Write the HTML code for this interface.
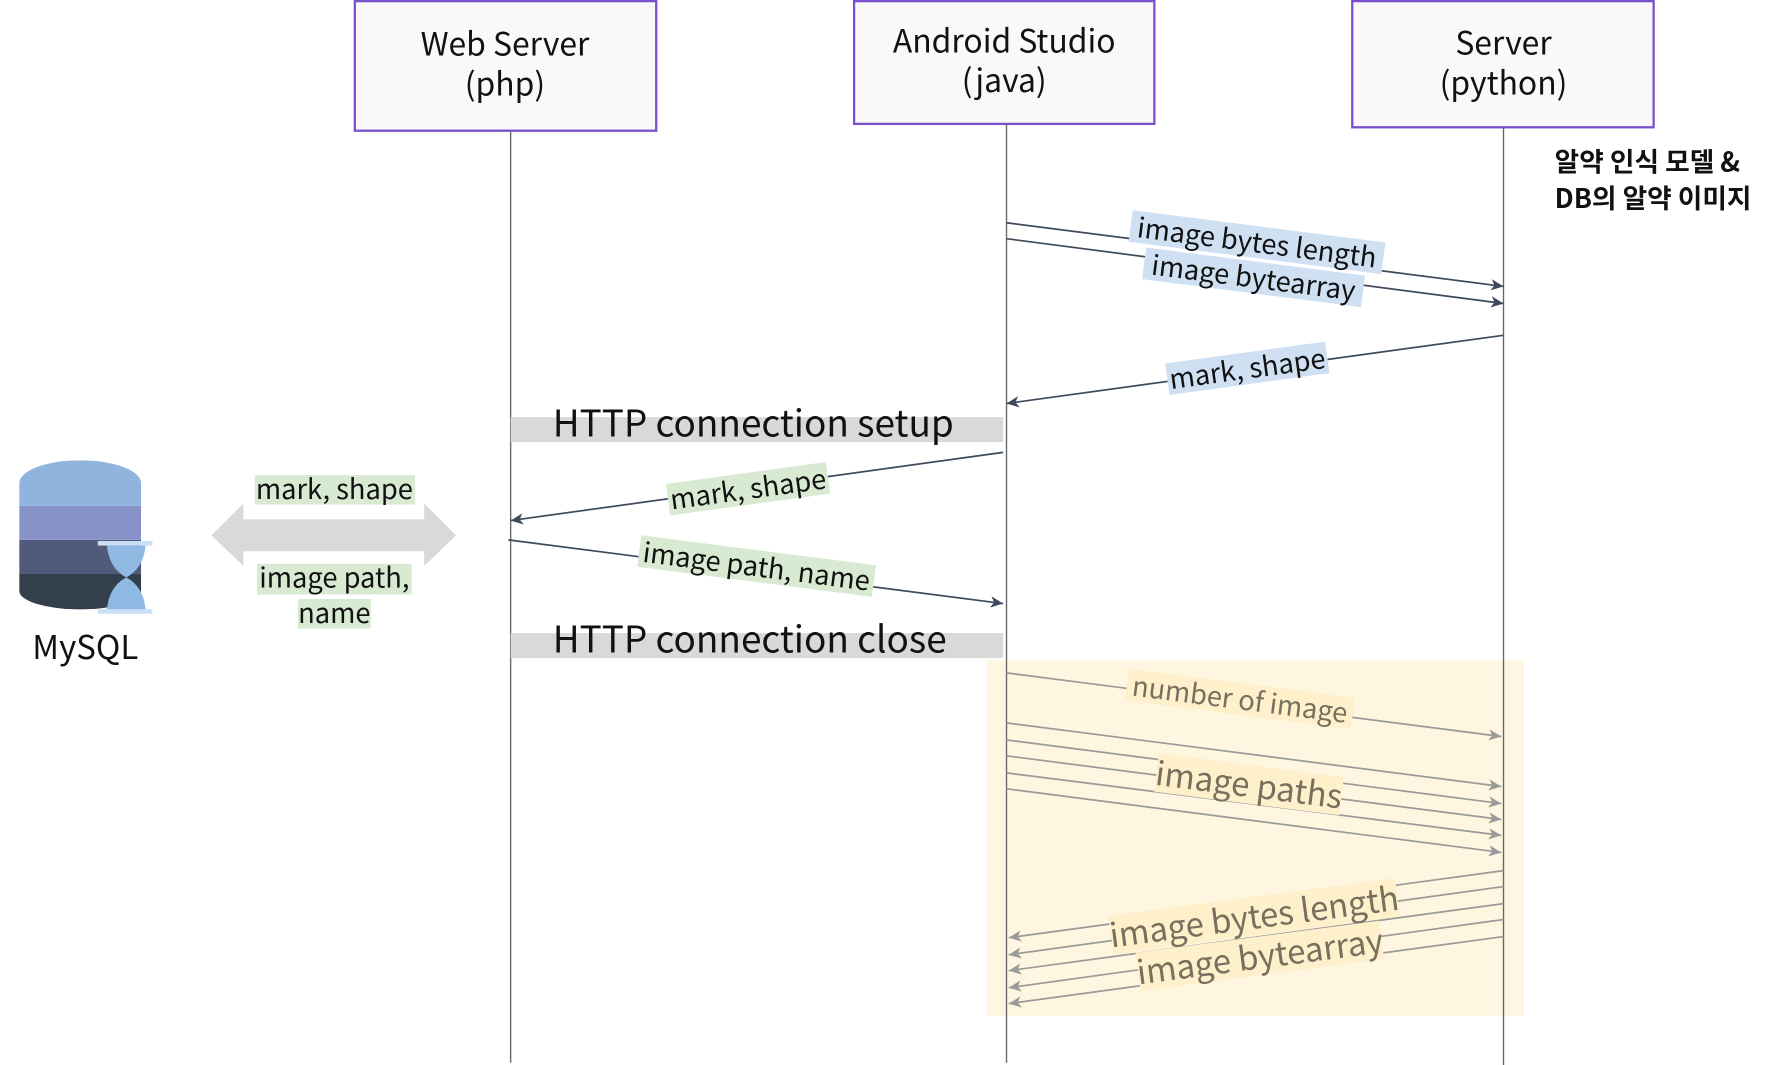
<!DOCTYPE html>
<html><head><meta charset="utf-8"><style>
html,body{margin:0;padding:0;background:#fff;width:1781px;height:1065px;overflow:hidden}
svg{display:block}
text{font-family:"Noto Sans CJK KR","Liberation Sans",sans-serif}
</style></head><body>
<svg width="1781" height="1065" viewBox="0 0 1566 937" preserveAspectRatio="none" xmlns="http://www.w3.org/2000/svg">
<defs>
<marker id="ad" markerWidth="12" markerHeight="10" refX="11" refY="5" orient="auto" markerUnits="userSpaceOnUse"><path d="M0,0 L11,5 L0,10 L3,5 Z" fill="#3d4a5c"/></marker>
<marker id="ag" markerWidth="12" markerHeight="10" refX="11" refY="5" orient="auto" markerUnits="userSpaceOnUse"><path d="M0,0 L11,5 L0,10 L3,5 Z" fill="#9a9a9a"/></marker>
</defs>
<rect x="868" y="581" width="472" height="313" fill="#fff6e1"/>
<rect x="312" y="1" width="265" height="114" fill="#f9f9f9" stroke="#7a4fcf" stroke-width="2"/>
<rect x="751" y="1" width="264" height="108" fill="#f9f9f9" stroke="#7a4fcf" stroke-width="2"/>
<rect x="1189" y="1" width="265" height="111" fill="#f9f9f9" stroke="#7a4fcf" stroke-width="2"/>
<g font-size="28" text-anchor="middle" fill="#111">
<text x="444" y="49">Web Server</text><text x="444" y="84">(php)</text>
<text x="883" y="46">Android Studio</text><text x="883" y="81">(java)</text>
<text x="1322" y="48">Server</text><text x="1322" y="83">(python)</text>
</g>
<line x1="449" y1="115" x2="449" y2="935" stroke="#666" stroke-width="1.2"/>
<line x1="885" y1="109" x2="885" y2="935" stroke="#666" stroke-width="1.2"/>
<line x1="1322" y1="112" x2="1322" y2="937" stroke="#666" stroke-width="1.2"/>
<g font-size="23.5" font-weight="bold" fill="#111"><text x="1367" y="151">알약 인식 모델 &amp;</text><text x="1367" y="183">DB의 알약 이미지</text></g>
<rect x="449" y="367" width="433" height="22" fill="#d9d9d9"/>
<text x="486" y="384" font-size="32.5" fill="#111">HTTP connection setup</text>
<rect x="449" y="557" width="433" height="22" fill="#d9d9d9"/>
<text x="486" y="574" font-size="32.5" fill="#111">HTTP connection close</text>
<g stroke="#3d4a5c" stroke-width="1.5" fill="none">
<line x1="885" y1="196" x2="1322" y2="252" marker-end="url(#ad)"/>
<line x1="885" y1="210" x2="1322" y2="267" marker-end="url(#ad)"/>
<line x1="1322" y1="295" x2="885" y2="355" marker-end="url(#ad)"/>
<line x1="882" y1="398" x2="449" y2="458" marker-end="url(#ad)"/>
<line x1="447" y1="475" x2="882" y2="531" marker-end="url(#ad)"/>
</g>
<g font-size="24" fill="#111" text-anchor="middle">
<g transform="translate(1105,215) rotate(7.3)"><rect x="-112" y="-16" width="224" height="28" fill="#cfe0f3"/><text y="7">image bytes length</text></g>
<g transform="translate(1102,246) rotate(7.3)"><rect x="-97" y="-16" width="194" height="28" fill="#cfe0f3"/><text y="7">image bytearray</text></g>
<g transform="translate(1097,326) rotate(-7.8)"><rect x="-71" y="-16" width="142" height="28" fill="#cfe0f3"/><text y="7">mark, shape</text></g>
<g transform="translate(658,432) rotate(-7.8)"><rect x="-71" y="-16" width="142" height="28" fill="#d9ead3"/><text y="7">mark, shape</text></g>
<g transform="translate(665,500) rotate(7.3)"><rect x="-104" y="-16" width="208" height="28" fill="#d9ead3"/><text y="7">image path, name</text></g>
</g>
<g stroke="#9a9a9a" stroke-width="1.5" fill="none">
<line x1="885" y1="592" x2="1320" y2="648" marker-end="url(#ag)"/>
<line x1="885" y1="636" x2="1320" y2="692" marker-end="url(#ag)"/>
<line x1="885" y1="651" x2="1320" y2="707" marker-end="url(#ag)"/>
<line x1="885" y1="665" x2="1320" y2="721" marker-end="url(#ag)"/>
<line x1="885" y1="680" x2="1320" y2="735" marker-end="url(#ag)"/>
<line x1="885" y1="694" x2="1320" y2="750" marker-end="url(#ag)"/>
<line x1="1322" y1="766" x2="887" y2="825" marker-end="url(#ag)"/>
<line x1="1322" y1="780" x2="887" y2="840" marker-end="url(#ag)"/>
<line x1="1322" y1="795" x2="887" y2="854" marker-end="url(#ag)"/>
<line x1="1322" y1="809" x2="887" y2="869" marker-end="url(#ag)"/>
<line x1="1322" y1="824" x2="887" y2="883" marker-end="url(#ag)"/>
</g>
<g fill="#77705e" text-anchor="middle">
<g transform="translate(1090,617) rotate(7.3)"><rect x="-100" y="-16" width="200" height="28" fill="#fff0cc"/><text y="7" font-size="24">number of image</text></g>
<g transform="translate(1098,692) rotate(7.3)"><rect x="-82" y="-19" width="164" height="34" fill="#fff0cc"/><text y="9" font-size="29">image paths</text></g>
<g transform="translate(1103,808) rotate(-7.5)"><rect x="-127" y="-19" width="254" height="34" fill="#fff0cc"/><text y="9" font-size="29">image bytes length</text></g>
<g transform="translate(1108,843) rotate(-7.5)"><rect x="-108" y="-19" width="216" height="34" fill="#fff0cc"/><text y="9" font-size="29">image bytearray</text></g>
</g>
<polygon points="186,471 214,443 214,457 373,457 373,443 401,471 373,498 373,485 214,485 214,498" fill="#d9d9d9"/>
<g font-size="24" fill="#111" text-anchor="middle">
<rect x="224" y="418" width="141" height="26" fill="#d9ead3"/><text x="294" y="439">mark, shape</text>
<rect x="226" y="496" width="136" height="27" fill="#d9ead3"/><text x="294" y="517">image path,</text>
<rect x="262" y="527" width="64" height="26" fill="#d9ead3"/><text x="294" y="548">name</text>
</g>
<path d="M17,505 L17,520 A53,16 0 0 0 124,520 L124,505 Z" fill="#343f4c"/>
<rect x="17" y="475" width="107" height="30" fill="#525a7c"/>
<rect x="17" y="445" width="107" height="30" fill="#8793c8"/>
<rect x="17" y="425" width="107" height="20" fill="#8fb5de"/>
<ellipse cx="70.5" cy="425" rx="53.5" ry="20" fill="#8fb5de"/>
<rect x="86" y="476" width="48" height="4" fill="#c9e0f5"/>
<rect x="86" y="536" width="48" height="4" fill="#c9e0f5"/>
<path d="M94,480 L128,480 Q126,500 111,508 Q126,516 128,536 L94,536 Q96,516 111,508 Q96,500 94,480 Z" fill="#8fb9e3"/>
<text x="75" y="580" font-size="29" text-anchor="middle" fill="#111">MySQL</text>
</svg>
</body></html>
